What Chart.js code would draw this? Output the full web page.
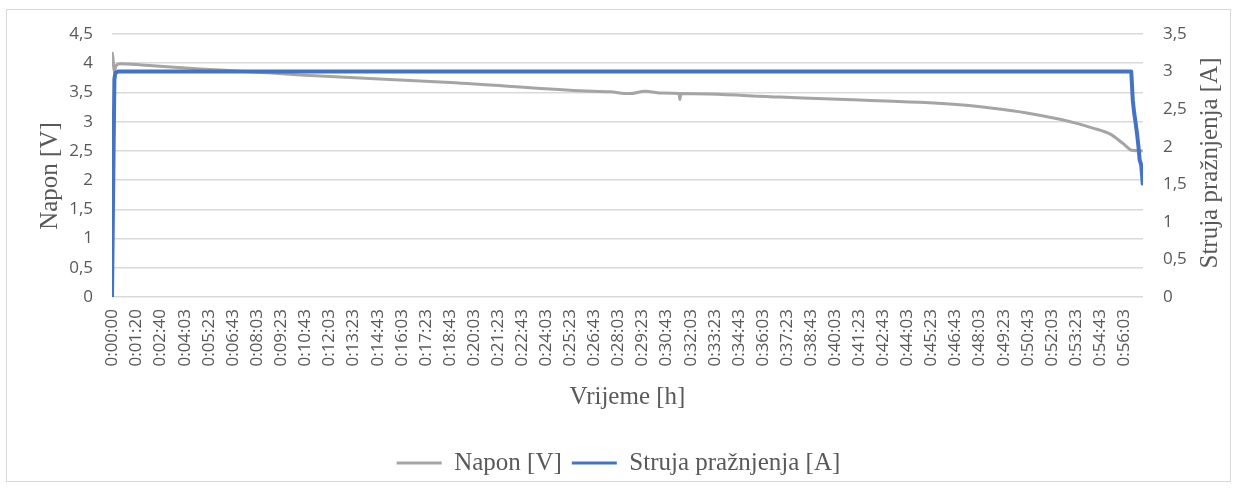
<!DOCTYPE html>
<html>
<head>
<meta charset="utf-8">
<script src="https://cdn.jsdelivr.net/npm/chart.js@4.4.0/dist/chart.umd.min.js"></script>
<style>
  html, body { margin: 0; padding: 0; background: #fff; }
  #wrap { width: 1237px; height: 488px; }
</style>
</head>
<body>
<div id="wrap"><canvas id="batteryChart" width="1237" height="488"></canvas></div>
<script>
// x tick labels (elapsed time)
const xTickLabels = ['0:00:00', '0:01:20', '0:02:40', '0:04:03', '0:05:23', '0:06:43', '0:08:03', '0:09:23',
  '0:10:43', '0:12:03', '0:13:23', '0:14:43', '0:16:03', '0:17:23', '0:18:43', '0:20:03', '0:21:23',
  '0:22:43', '0:24:03', '0:25:23', '0:26:43', '0:28:03', '0:29:23', '0:30:43', '0:32:03', '0:33:23',
  '0:34:43', '0:36:03', '0:37:23', '0:38:43', '0:40:03', '0:41:23', '0:42:43', '0:44:03', '0:45:23',
  '0:46:43', '0:48:03', '0:49:23', '0:50:43', '0:52:03', '0:53:23', '0:54:43', '0:56:03'];

// voltage (time in seconds)
const voltTimes  = [0, 3, 7, 14, 28, 100, 293, 440, 626, 1124, 1555, 1655, 1721, 1771, 1831, 1884, 1887, 1890,
  2220, 2485, 2817, 2927, 3040, 3150, 3206, 3259, 3316, 3359, 3389, 3425];
const voltValues = [4.19, 4.1, 3.86, 3.96, 3.99, 3.97, 3.9, 3.86, 3.8, 3.67, 3.53, 3.51, 3.48, 3.52, 3.49, 3.48, 3.38, 3.48,
  3.42, 3.37, 3.29, 3.23, 3.15, 3.04, 2.97, 2.89, 2.79, 2.63, 2.51, 2.5];

// discharge current
const currTimes  = [0, 4, 8, 11, 20, 3387, 3392, 3396, 3401, 3406, 3411, 3415, 3420, 3423, 3425];
const currValues = [0, 1.5, 2.9, 2.98, 3.0, 3.0, 2.62, 2.47, 2.33, 2.18, 2.0, 1.82, 1.76, 1.62, 1.51];

const toSec = s => { const p = s.split(':').map(Number); return p[0] * 3600 + p[1] * 60 + p[2]; };
const comma = v => String(v).replace('.', ',');

const tickFont = { family: "'Open Sans', sans-serif", size: 17 };
const titleFont = { family: "'Liberation Serif', 'Times New Roman', serif", size: 25 };
const textColor = '#595959';

// frame around the whole chart + y axis titles
const decor = {
  id: 'decor',
  beforeDraw(chart) {
    const c = chart.ctx;
    c.save();
    c.fillStyle = '#fff';
    c.fillRect(0, 0, chart.width, chart.height);
    c.strokeStyle = '#d9d9d9';
    c.lineWidth = 1;
    c.strokeRect(6.5, 9.5, 1224, 472);
    c.restore();
  },
  afterDraw(chart) {
    const c = chart.ctx;
    const titles = [['Napon [V]', 50, 176], ['Struja pražnjenja [A]', 1210, 163]];
    titles.forEach(([txt, x, y]) => {
      c.save();
      c.fillStyle = textColor;
      c.font = titleFont.size + 'px ' + titleFont.family;
      c.textAlign = 'center';
      c.textBaseline = 'middle';
      c.translate(x, y);
      c.rotate(-Math.PI / 2);
      c.fillText(txt, 0, 0);
      c.restore();
    });
  }
};

const ctx = document.getElementById('batteryChart').getContext('2d');
const batteryChart = new Chart(ctx, {
  type: 'line',
  data: {
    datasets: [{
      label: 'Napon [V]',
      data: voltTimes.map((t, i) => ({ x: t, y: voltValues[i] })),
      borderColor: '#a5a5a5',
      backgroundColor: '#a5a5a5',
      borderWidth: 3,
      borderJoinStyle: 'round',
      cubicInterpolationMode: 'monotone',
      pointRadius: 0,
      yAxisID: 'y',
      order: 2
    }, {
      label: 'Struja pražnjenja [A]',
      data: currTimes.map((t, i) => ({ x: t, y: currValues[i] })),
      borderColor: '#4472c4',
      backgroundColor: '#4472c4',
      borderWidth: 4,
      borderJoinStyle: 'round',
      pointRadius: 0,
      yAxisID: 'y1',
      order: 1
    }]
  },
  options: {
    responsive: false,
    animation: false,
    devicePixelRatio: 1,
    layout: { padding: { top: 34, bottom: 2.5, left: 0, right: 0 } },
    scales: {
      x: {
        type: 'linear',
        min: 0,
        max: 3426,
        grid: { display: false, drawTicks: false },
        border: { display: false },
        afterBuildTicks: scale => { scale.ticks = xTickLabels.map(l => ({ value: toSec(l) })); },
        afterFit: scale => { scale.height = 143.5; },
        ticks: {
          autoSkip: false,
          minRotation: 90,
          maxRotation: 90,
          padding: 12,
          color: textColor,
          font: tickFont,
          callback: (v, i) => xTickLabels[i]
        },
        title: {
          display: true,
          text: 'Vrijeme [h]',
          color: textColor,
          font: titleFont,
          padding: { top: 0, bottom: 28.5 }
        }
      },
      y: {
        position: 'left',
        min: 0,
        max: 4.5,
        grid: { color: '#d9d9d9', lineWidth: 1.5, drawTicks: false },
        border: { display: false },
        afterFit: scale => { scale.width = 112; },
        ticks: { stepSize: 0.5, padding: 19, color: textColor, font: tickFont, callback: comma }
      },
      y1: {
        position: 'right',
        min: 0,
        max: 3.5,
        grid: { drawOnChartArea: false, drawTicks: false },
        border: { display: false },
        afterFit: scale => { scale.width = 94; },
        ticks: { stepSize: 0.5, padding: 20, color: textColor, font: tickFont, callback: comma }
      }
    },
    plugins: {
      legend: {
        position: 'bottom',
        labels: {
          boxWidth: 45,
          boxHeight: 3,
          padding: 10,
          color: textColor,
          font: titleFont,
          sort: (a, b) => a.datasetIndex - b.datasetIndex,
          generateLabels: chart => Chart.defaults.plugins.legend.labels.generateLabels(chart)
            .map(item => Object.assign(item, { lineWidth: 0, fillStyle: item.strokeStyle }))
        }
      },
      tooltip: { enabled: false }
    }
  },
  plugins: [decor]
});
</script>
</body>
</html>
